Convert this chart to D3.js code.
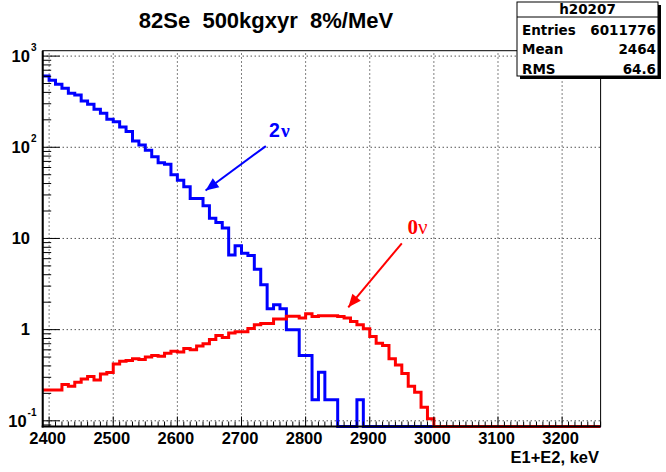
<!DOCTYPE html>
<html>
<head>
<meta charset="utf-8">
<script src="https://cdn.jsdelivr.net/npm/d3@7"></script>
<style>
body{margin:0;background:#fff;}
text{font-family:"Liberation Sans",Arial,sans-serif;font-weight:bold;}
</style>
</head>
<body>
<svg id="chart" width="666" height="472"></svg>
<script>

var binStart = 2390, binWidth = 10

// 2nu spectrum, bins of 10 keV from 2390 keV
var blueValues = [605,543,491,444,391,375,322,297,261,236,
                  203,190,167,149,117,106,93,78.5,67.5,65.3,
                  49.9,43.6,36.8,27.5,27.5,22.8,16.7,15,13,6.6,
                  8.3,6.9,6.5,4.6,3.1,1.69,1.88,1.69,1.0,1.0,
                  0.52,0.52,0.17,0.34,0.17,0.17,0,0,0,0.17,
                  0,0,0,0,0,0,0,0,0,0,0,0,0,0,0,0,0,0,0,0,
                  0,0,0,0,0,0,0,0,0,0,0,0,0,0,0,0,0]

// 0nu peak
var redValues = [0.218,0.218,0.218,0.25,0.24,0.265,0.288,0.306,0.281,0.327,
                 0.338,0.42,0.45,0.46,0.48,0.47,0.50,0.52,0.51,0.55,
                 0.58,0.57,0.62,0.60,0.66,0.70,0.78,0.86,0.82,0.92,
                 0.95,0.95,1.03,1.13,1.17,1.17,1.31,1.31,1.40,1.40,
                 1.34,1.49,1.39,1.42,1.42,1.42,1.39,1.34,1.23,1.13,
                 1.02,0.84,0.71,0.67,0.48,0.41,0.33,0.24,0.206,0.141,
                 0.105,0,0,0,0,0,0,0,0,0,0,0,0,0,0,0,0,0,0,0,0,0,0,0,0,0,0]

var xTicks = [2400,2500,2600,2700,2800,2900,3000,3100,3200]
var yTicks = [0.1,1,10,100,1000]
var yTickBase = ["10","1","10","10","10"]
var yTickExp = ["-1","","","2","3"]

var title = "82Se  500kgxyr  8%/MeV"
var xTitle = "E1+E2, keV"
var histName = "h20207"
var statLabels = ["Entries","Mean","RMS"]
var statValues = ["6011776","2464","64.6"]

var svg = d3.select("#chart")

var frameL = 42.7, frameR = 600.6, frameT = 50.7, frameB = 426.5

var x = d3.scaleLinear()
    .domain([binStart, binStart + binWidth*blueValues.length])
    .range([frameL, frameR])

var ymin = 0.0866
var y = d3.scaleLog()
    .domain([ymin, 1146])
    .range([frameB, frameT])

svg.append("defs").append("clipPath").attr("id","frameclip")
    .append("rect")
    .attr("x", frameL).attr("y", frameT-2)
    .attr("width", frameR-frameL).attr("height", frameB-frameT+4)

// dotted grid
svg.selectAll(".gx").data(xTicks).enter()
    .append("line")
    .attr("x1", d => x(d)).attr("x2", d => x(d))
    .attr("y1", frameB).attr("y2", frameT)
    .style("stroke","black").style("stroke-width",1)
    .style("stroke-dasharray","1,3")

svg.selectAll(".gy").data(yTicks).enter()
    .append("line")
    .attr("x1", frameL).attr("x2", frameR)
    .attr("y1", d => y(d)).attr("y2", d => y(d))
    .style("stroke","black").style("stroke-width",1)
    .style("stroke-dasharray","1,3")

function histPath(values){
    var pts = []
    values.forEach((v,i) => {
        var lo = binStart + i*binWidth
        var vv = Math.max(v, ymin)
        pts.push([x(lo), y(vv)])
        pts.push([x(lo+binWidth), y(vv)])
    })
    return d3.line()(pts)
}

svg.append("path")
    .attr("d", histPath(blueValues))
    .attr("clip-path","url(#frameclip)")
    .style("fill","none").style("stroke","#0000ff").style("stroke-width",3)

svg.append("path")
    .attr("d", histPath(redValues))
    .attr("clip-path","url(#frameclip)")
    .style("fill","none").style("stroke","#ff0000").style("stroke-width",3)

// frame
svg.append("rect")
    .attr("x", frameL).attr("y", frameT)
    .attr("width", frameR-frameL).attr("height", frameB-frameT)
    .style("fill","none").style("stroke","black").style("stroke-width",1)
svg.append("line").attr("x1",frameL).attr("x2",frameL).attr("y1",frameT).attr("y2",frameB+1)
    .style("stroke","black").style("stroke-width",2)
svg.append("line").attr("x1",frameL-1).attr("x2",frameR).attr("y1",frameB).attr("y2",frameB)
    .style("stroke","black").style("stroke-width",2)

// x ticks
var xMinor = d3.range(binStart, binStart + binWidth*blueValues.length + 1, binWidth)
svg.selectAll(".xm").data(xMinor).enter()
    .append("line")
    .attr("x1", d => x(d)).attr("x2", d => x(d))
    .attr("y1", frameB).attr("y2", d => frameB - (d%100==0 ? 10 : 5))
    .style("stroke","black").style("stroke-width",1)

svg.selectAll(".xl").data(xTicks).enter()
    .append("text")
    .attr("x", d => x(d) - 1.5).attr("y", 443.5)
    .attr("text-anchor","middle")
    .style("font-size","16.5px")
    .text(d => d)

svg.append("text")
    .attr("x", 599).attr("y", 463)
    .attr("text-anchor","end")
    .style("font-size","16.5px")
    .text(xTitle)

// y ticks
var yMinor = []
for (var e = -2; e <= 3; e++)
    for (var k = 2; k <= 9; k++){
        var v = k*Math.pow(10,e)
        if (v > ymin && v < 1146) yMinor.push(v)
    }
svg.selectAll(".ym").data(yMinor).enter()
    .append("line")
    .attr("x1", frameL).attr("x2", frameL+8.5)
    .attr("y1", d => y(d)).attr("y2", d => y(d))
    .style("stroke","black").style("stroke-width",1)
svg.selectAll(".yM").data(yTicks).enter()
    .append("line")
    .attr("x1", frameL).attr("x2", frameL+17)
    .attr("y1", d => y(d)).attr("y2", d => y(d))
    .style("stroke","black").style("stroke-width",1)

var ylab = svg.selectAll(".yl").data(yTicks).enter()
    .append("text")
    .attr("x", (d,i) => yTickExp[i] ? 36.5 : 30)
    .attr("y", d => y(d) + 5.8)
    .attr("text-anchor","end")
    .style("font-size","16.5px")
ylab.append("tspan").text((d,i) => yTickBase[i])
ylab.append("tspan")
    .attr("dx", 1).attr("dy", -11)
    .style("font-size","10px")
    .text((d,i) => yTickExp[i])

// title
svg.append("text")
    .attr("x", 266).attr("y", 28)
    .attr("text-anchor","middle")
    .style("font-size","22px")
    .style("white-space","pre")
    .text(title)

// arrows
function arrow(x1,y1,x2,y2,color){
    svg.append("line")
        .attr("x1",x1).attr("y1",y1).attr("x2",x2).attr("y2",y2)
        .style("stroke",color).style("stroke-width",2)
    var a = Math.atan2(y2-y1, x2-x1), L = 13, W = 5.5
    var bx = x2 - L*Math.cos(a), by = y2 - L*Math.sin(a)
    var p = [[x2,y2],
             [bx + W*Math.sin(a), by - W*Math.cos(a)],
             [bx - W*Math.sin(a), by + W*Math.cos(a)]]
    svg.append("path").attr("d", d3.line()(p) + "Z").style("fill",color)
}
arrow(x(2738), y(103), x(2644), y(33.6), "#0000ff")
arrow(x(2950), y(8.85), x(2866.5), y(1.757), "#ff0000")

var nu2 = svg.append("text").attr("x", x(2743)).attr("y", y(129))
    .style("fill","#0000ff").style("font-size","19.5px")
nu2.append("tspan").text("2")
nu2.append("tspan").attr("dx",1)
    .style("font-family","'Liberation Serif',serif")
    .text("ν")

var nu0 = svg.append("text").attr("x", x(2959)).attr("y", y(11.3))
    .style("fill","#ff0000").style("font-size","21px")
    .style("font-family","'Liberation Serif',serif")
nu0.append("tspan").text("0")
nu0.append("tspan").style("font-weight","normal").text("ν")

// stats box
var bx0 = 517, by0 = 2, bw = 141, bh = 74
svg.append("rect").attr("x",bx0+3).attr("y",by0+3).attr("width",bw).attr("height",bh)
    .style("fill","black")
svg.append("rect").attr("x",bx0).attr("y",by0).attr("width",bw).attr("height",bh)
    .style("fill","white").style("stroke","black").style("stroke-width",1)
svg.append("line").attr("x1",bx0).attr("x2",bx0+bw).attr("y1",17).attr("y2",17)
    .style("stroke","black").style("stroke-width",1)
svg.append("text").attr("x", bx0+bw/2).attr("y", 14)
    .attr("text-anchor","middle")
    .style("font-family","'DejaVu Sans',sans-serif").style("font-size","13.5px")
    .text(histName)
svg.selectAll(".sl").data(statLabels).enter()
    .append("text")
    .attr("x", bx0+5).attr("y", (d,i) => 34.5 + i*19.5)
    .style("font-family","'DejaVu Sans',sans-serif").style("font-size","13.5px")
    .text(d => d)
svg.selectAll(".sv").data(statValues).enter()
    .append("text")
    .attr("x", bx0+bw-2).attr("y", (d,i) => 34.5 + i*19.5)
    .attr("text-anchor","end")
    .style("font-family","'DejaVu Sans',sans-serif").style("font-size","13.5px")
    .text(d => d)

</script>
</body>
</html>
